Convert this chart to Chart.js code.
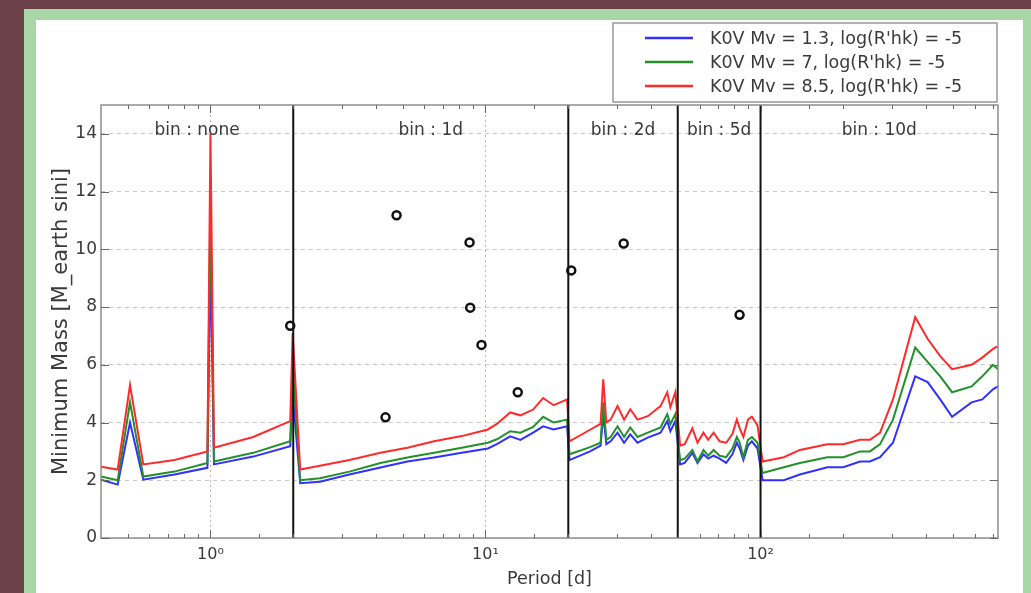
<!DOCTYPE html>
<html>
<head>
<meta charset="utf-8">
<script src="https://cdn.jsdelivr.net/npm/chart.js@4"></script>
<style>
  html, body { margin: 0; padding: 0; }
  body { width: 1031px; height: 593px; overflow: hidden; background: #6b4049; position: relative; }
  #panel { position: absolute; left: 24px; top: 9px; width: 1011px; height: 700px; box-sizing: border-box;
           border: 12px solid #a9d6a7; border-top-width: 11px; background: #fff; }
  #chart { position: absolute; left: 0; top: 0; }
</style>
</head>
<body>
<div id="panel"></div>
<canvas id="chart" width="1031" height="593"></canvas>
<script>
// detection limits, one value per period for each star model
var periods = [
  0.40, 0.46, 0.51, 0.57, 0.74, 0.975, 1.0, 1.03, 1.43, 1.95, 1.99, 2.12,
  2.5, 3.2, 4.15, 5.2, 6.5, 8.2, 10.2, 11.0, 12.3, 13.4, 14.9, 16.2, 17.7, 19.8,
  20.2, 24, 26.2, 26.8, 27.5, 28.5, 30.2, 31.9, 33.6, 35.7, 38.9, 43.3, 45.8, 47.0, 49.0,
  51, 53, 56.5, 59, 62, 64.5, 67.5, 71, 75, 79, 82, 84, 86.6, 90, 93, 97.5,
  101.7, 121.5, 139, 175, 200, 230, 250, 272, 303, 365, 405, 450, 497, 585, 640, 700, 730
];
var massBlue = [
  2.02, 1.85, 4.0, 2.02, 2.2, 2.43, 9.7, 2.55, 2.82, 3.18, 5.0, 1.9,
  1.95, 2.2, 2.44, 2.65, 2.79, 2.95, 3.1, 3.25, 3.52, 3.4, 3.65, 3.87, 3.76, 3.87,
  2.7, 3.0, 3.2, 4.3, 3.25, 3.35, 3.65, 3.3, 3.59, 3.3, 3.48, 3.65, 4.05, 3.7, 4.05,
  2.55, 2.6, 2.95, 2.6, 2.9, 2.75, 2.85, 2.75, 2.6, 2.9, 3.3, 3.1, 2.7, 3.2, 3.35, 3.1,
  2.0, 2.0, 2.2, 2.45, 2.45, 2.65, 2.65, 2.8, 3.3, 5.6, 5.4, 4.8, 4.2, 4.7, 4.8, 5.15, 5.25
];
var massGreen = [
  2.13, 2.0, 4.7, 2.13, 2.3, 2.6, 11.8, 2.65, 2.95, 3.35, 6.0, 2.0,
  2.07, 2.3, 2.6, 2.79, 2.95, 3.13, 3.3, 3.42, 3.7, 3.65, 3.85, 4.2, 4.0, 4.1,
  2.9, 3.15, 3.3, 4.7, 3.4, 3.5, 3.87, 3.5, 3.83, 3.5, 3.65, 3.83, 4.29, 3.94, 4.29,
  2.7, 2.75, 3.05, 2.65, 3.05, 2.85, 3.05, 2.85, 2.8, 3.1, 3.5, 3.3, 2.8, 3.4, 3.5, 3.3,
  2.25, 2.45, 2.6, 2.8, 2.8, 3.0, 3.0, 3.25, 4.1, 6.6, 6.1, 5.6, 5.05, 5.25, 5.6, 6.0, 5.85
];
var massRed = [
  2.47, 2.37, 5.3, 2.55, 2.7, 3.0, 14.0, 3.13, 3.5, 4.05, 7.1, 2.37,
  2.5, 2.7, 2.95, 3.13, 3.35, 3.53, 3.76, 3.95, 4.35, 4.25, 4.45, 4.85, 4.6, 4.8,
  3.35, 3.75, 3.95, 5.5, 4.0, 4.1, 4.57, 4.1, 4.46, 4.1, 4.22, 4.57, 5.05, 4.53, 5.05,
  3.2, 3.25, 3.8, 3.3, 3.65, 3.4, 3.65, 3.35, 3.3, 3.6, 4.1, 3.8, 3.5, 4.1, 4.2, 3.9,
  2.65, 2.8, 3.05, 3.25, 3.25, 3.4, 3.4, 3.65, 4.8, 7.65, 6.9, 6.3, 5.85, 6.0, 6.25, 6.55, 6.65
];
var seriesLabels = [
  "K0V Mv = 1.3, log(R'hk) = -5",
  "K0V Mv = 7, log(R'hk) = -5",
  "K0V Mv = 8.5, log(R'hk) = -5"
];
var seriesColors = ['#3030ff', '#23902a', '#ff2a2a'];

// known planets
var planetPeriods = [1.95, 4.33, 4.75, 8.75, 8.8, 9.67, 13.1, 20.5, 31.8, 83.9];
var planetMasses = [7.35, 4.18, 11.18, 10.24, 7.98, 6.69, 5.05, 9.27, 10.2, 7.73];

// binning regions
var binEdges = [2, 20, 50, 100];
var binLabels = ['bin : none', 'bin : 1d', 'bin : 2d', 'bin : 5d', 'bin : 10d'];

var yTicks = [0, 2, 4, 6, 8, 10, 12, 14];
var xTickLabels = { 1: '10\u2070', 10: '10\u00b9', 100: '10\u00b2' };

var X_MIN = 0.4, X_MAX = 730, Y_MIN = 0, Y_MAX = 15;
var FONT = '"DejaVu Sans", sans-serif';
var TEXT = '#3a3a3a';

function toPoints(xs, ys) {
  return xs.map(function(x, i) { return { x: x, y: ys[i] }; });
}

function isDecade(v) {
  var l = Math.log10(v);
  return Math.abs(l - Math.round(l)) < 1e-6;
}

var datasets = [];

datasets.push({
  label: 'planets',
  data: toPoints(planetPeriods, planetMasses),
  showLine: false,
  pointStyle: 'circle',
  pointRadius: 4,
  pointBorderWidth: 2.5,
  borderColor: '#111',
  backgroundColor: 'rgba(0,0,0,0)',
  order: 0
});

binEdges.forEach(function(e) {
  datasets.push({
    label: 'edge',
    data: [{ x: e, y: Y_MIN }, { x: e, y: Y_MAX }],
    borderColor: '#111',
    borderWidth: 2,
    pointRadius: 0,
    order: 1
  });
});

[massBlue, massGreen, massRed].forEach(function(vals, i) {
  datasets.push({
    label: seriesLabels[i],
    data: toPoints(periods, vals),
    borderColor: seriesColors[i],
    borderWidth: 2,
    pointRadius: 0,
    tension: 0,
    order: 2 + (2 - i)
  });
});

var decor = {
  id: 'decor',
  afterDatasetsDraw: function(chart) {
    var ctx = chart.ctx;
    var a = chart.chartArea;
    var xs = chart.scales.x, ys = chart.scales.y;

    ctx.save();
    // frame
    ctx.strokeStyle = '#8f8f8f';
    ctx.lineWidth = 1.5;
    ctx.strokeRect(a.left, a.top, a.right - a.left, a.bottom - a.top);

    // inward tick marks
    ctx.strokeStyle = '#666';
    ctx.lineWidth = 1;
    xs.ticks.forEach(function(t) {
      if (t.value <= X_MIN || t.value >= X_MAX) return;
      var px = Math.round(xs.getPixelForValue(t.value)) + 0.5;
      var len = isDecade(t.value) ? 8 : 4;
      ctx.beginPath();
      ctx.moveTo(px, a.bottom); ctx.lineTo(px, a.bottom - len);
      ctx.moveTo(px, a.top); ctx.lineTo(px, a.top + len);
      ctx.stroke();
    });
    ys.ticks.forEach(function(t) {
      var py = Math.round(ys.getPixelForValue(t.value)) + 0.5;
      ctx.beginPath();
      ctx.moveTo(a.left, py); ctx.lineTo(a.left + 8, py);
      ctx.moveTo(a.right, py); ctx.lineTo(a.right - 8, py);
      ctx.stroke();
    });

    // bin labels centred in each region
    var edges = [X_MIN].concat(binEdges, [X_MAX]);
    ctx.font = '17px ' + FONT;
    ctx.fillStyle = TEXT;
    ctx.textAlign = 'center';
    ctx.textBaseline = 'middle';
    var ly = ys.getPixelForValue(14.1);
    binLabels.forEach(function(lbl, i) {
      var x0 = xs.getPixelForValue(edges[i]);
      var x1 = xs.getPixelForValue(edges[i + 1]);
      ctx.fillText(lbl, (x0 + x1) / 2, ly);
    });

    // legend box above the top right corner
    var bw = 384, bh = 79;
    var bx = a.right - bw - 1, by = a.top - bh - 3;
    ctx.fillStyle = '#fff';
    ctx.fillRect(bx, by, bw, bh);
    ctx.strokeStyle = '#999';
    ctx.lineWidth = 1.5;
    ctx.strokeRect(bx, by, bw, bh);
    ctx.font = '17.5px ' + FONT;
    ctx.textAlign = 'left';
    seriesLabels.forEach(function(lbl, i) {
      var ry = by + 15 + i * 24;
      ctx.strokeStyle = seriesColors[i];
      ctx.lineWidth = 2.5;
      ctx.beginPath();
      ctx.moveTo(bx + 32, ry); ctx.lineTo(bx + 80, ry);
      ctx.stroke();
      ctx.fillStyle = TEXT;
      ctx.fillText(lbl, bx + 97, ry + 1);
    });
    ctx.restore();
  }
};

var chart = new Chart(document.getElementById('chart').getContext('2d'), {
  type: 'line',
  data: { datasets: datasets },
  plugins: [decor],
  options: {
    responsive: false,
    animation: false,
    layout: { padding: { left: 49, right: 33, top: 105, bottom: 3 } },
    plugins: {
      legend: { display: false },
      tooltip: { enabled: false }
    },
    scales: {
      x: {
        type: 'logarithmic',
        min: X_MIN,
        max: X_MAX,
        afterFit: function(s) { s.height = 52; },
        border: { display: false, dash: [2, 3] },
        grid: {
          drawTicks: false,
          lineWidth: 1,
          color: function(c) {
            return c.tick && isDecade(c.tick.value) ? '#b5b5b5' : 'rgba(0,0,0,0)';
          }
        },
        ticks: {
          autoSkip: false,
          maxRotation: 0,
          padding: 7,
          color: TEXT,
          font: { family: FONT, size: 16 },
          callback: function(v) {
            return isDecade(v) ? (xTickLabels[Math.round(v)] || '') : '';
          }
        },
        title: {
          display: true,
          text: 'Period [d]',
          color: TEXT,
          font: { family: FONT, size: 17.5 },
          padding: { top: 0, bottom: 0 }
        }
      },
      y: {
        min: Y_MIN,
        max: Y_MAX,
        afterBuildTicks: function(s) {
          s.ticks = yTicks.map(function(v) { return { value: v }; });
        },
        afterFit: function(s) { s.width = 52; },
        border: { display: false, dash: [4, 4] },
        grid: { drawTicks: false, color: '#c8c8c8', lineWidth: 1 },
        ticks: {
          padding: 4,
          color: TEXT,
          font: { family: FONT, size: 17 }
        },
        title: {
          display: true,
          text: 'Minimum Mass [M_earth sini]',
          color: TEXT,
          font: { family: FONT, size: 21 },
          padding: { top: 0, bottom: 4 }
        }
      }
    }
  }
});
</script>
</body>
</html>
